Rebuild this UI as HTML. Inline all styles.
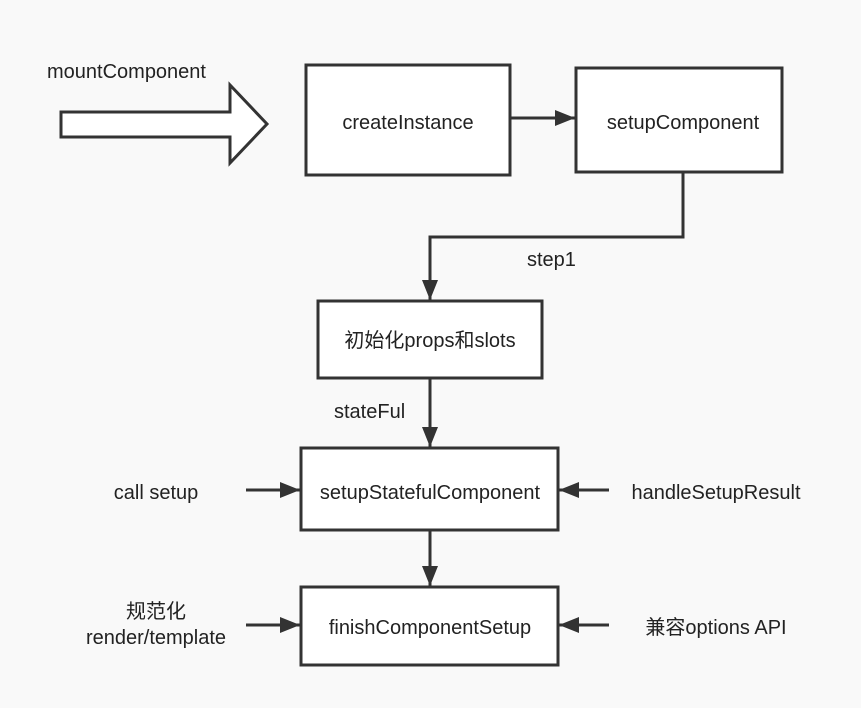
<!DOCTYPE html>
<html><head><meta charset="utf-8"><style>
html,body{margin:0;padding:0;background:#f9f9f9;}
svg text{font-family:"Liberation Sans","Noto Sans CJK SC",sans-serif;font-size:20px;fill:#222;}
</style></head><body>
<svg width="861" height="703" viewBox="0 0 861 703" xmlns="http://www.w3.org/2000/svg">
<rect width="861" height="703" fill="#f9f9f9"/>
<defs>
<marker id="b" markerWidth="20" markerHeight="16" refX="20" refY="8" orient="auto" markerUnits="userSpaceOnUse"><path d="M0,0 L20,8 L0,16 Z" fill="#333"/></marker></defs>
<g stroke="#333" stroke-width="3" fill="#fff">
<path d="M61,112 L230,112 L230,85 L267,124 L230,163 L230,137 L61,137 Z"/>
<rect x="306" y="65" width="204" height="110"/>
<rect x="576" y="68" width="206" height="104"/>
<rect x="318" y="301" width="224" height="77"/>
<rect x="301" y="448" width="257" height="82"/>
<rect x="301" y="587" width="257" height="78"/>
</g>
<g stroke="#333" stroke-width="3" fill="none">
<line x1="510" y1="118" x2="575" y2="118" marker-end="url(#b)"/>
<polyline points="683,172 683,237 430,237 430,300" marker-end="url(#b)"/>
<line x1="430" y1="378" x2="430" y2="447" marker-end="url(#b)"/>
<line x1="430" y1="530" x2="430" y2="586" marker-end="url(#b)"/>
<line x1="246" y1="490" x2="300" y2="490" marker-end="url(#b)"/>
<line x1="609" y1="490" x2="559" y2="490" marker-end="url(#b)"/>
<line x1="246" y1="625" x2="300" y2="625" marker-end="url(#b)"/>
<line x1="609" y1="625" x2="559" y2="625" marker-end="url(#b)"/>
</g>
<text x="47" y="78">mountComponent</text>
<text x="408" y="129" text-anchor="middle">createInstance</text>
<text x="683" y="129" text-anchor="middle">setupComponent</text>
<text x="527" y="266">step1</text>
<text x="430" y="347" text-anchor="middle">初始化props和slots</text>
<text x="334" y="418">stateFul</text>
<text x="430" y="499" text-anchor="middle">setupStatefulComponent</text>
<text x="156" y="499" text-anchor="middle">call setup</text>
<text x="716" y="499" text-anchor="middle">handleSetupResult</text>
<text x="430" y="634" text-anchor="middle">finishComponentSetup</text>
<text x="156" y="618" text-anchor="middle">规范化</text>
<text x="156" y="644" text-anchor="middle">render/template</text>
<text x="716" y="634" text-anchor="middle">兼容options API</text>
</svg>
</body></html>
